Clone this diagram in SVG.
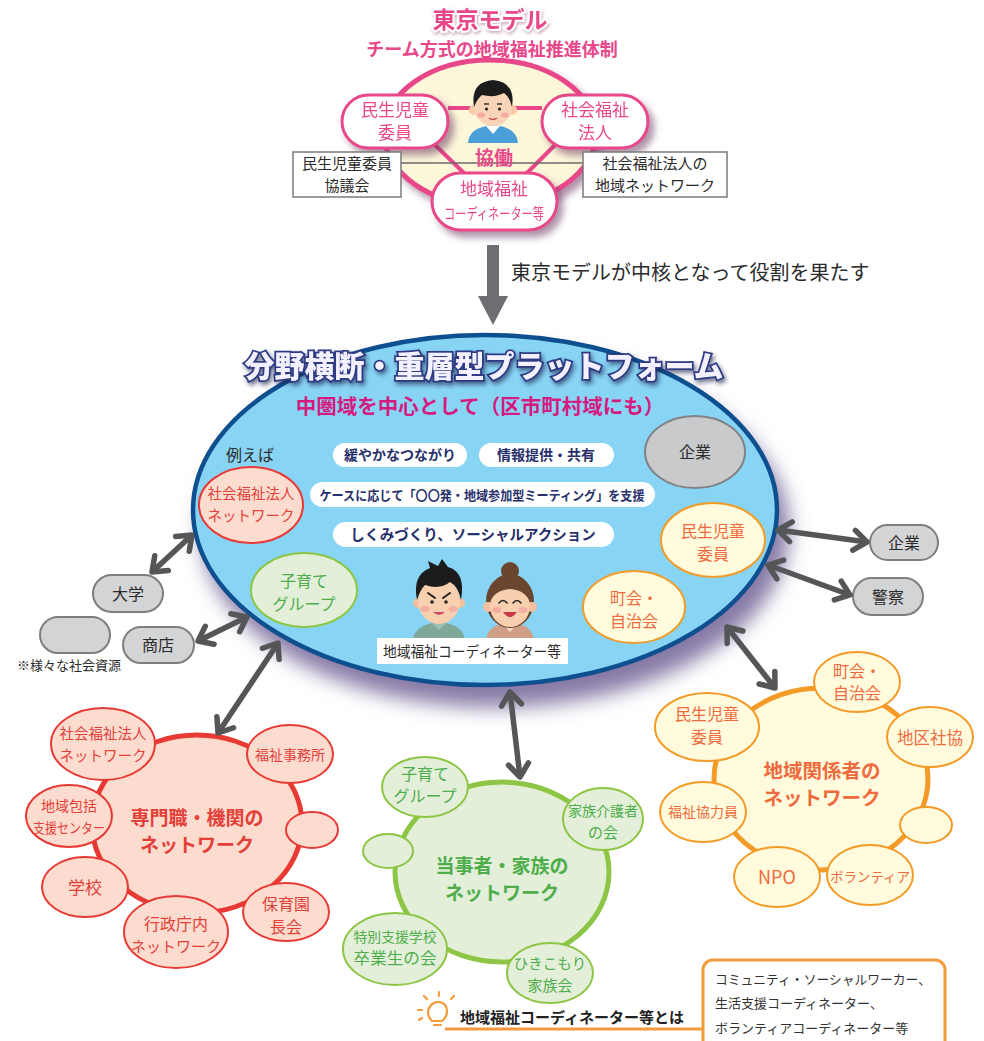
<svg xmlns="http://www.w3.org/2000/svg" width="984" height="1041" viewBox="0 0 984 1041">
<defs>
<style>
text{font-family:"Noto Sans CJK JP","Noto Sans CJK SC",sans-serif;text-anchor:middle}
.l{text-anchor:start}
.pk{fill:#e8478a}
.dk{fill:#2b2b2b}
.nv{fill:#27306b;font-weight:700}
.rd{fill:#e4403a}
.gr{fill:#4fae4c}
.or{fill:#ef6a3c}
.b{font-weight:700}
.topPill{fill:#fff;stroke:#e8478a;stroke-width:3}
.box{fill:#fff;stroke:#7a7a7a;stroke-width:1.5}
.wp{fill:#fff}
.gp{fill:#d3d4d6;stroke:#7d7e80;stroke-width:2}
.rs{fill:#fcdccf;stroke:#e83a35;stroke-width:2}
.gs{fill:#e3efd8;stroke:#8dc544;stroke-width:2}
.os{fill:#fffbdc;stroke:#f49a26;stroke-width:2}
.conn{stroke:#555658;stroke-width:5.5;fill:none;marker-start:url(#chev);marker-end:url(#chev)}
</style>
<marker id="chev" viewBox="-18 -14 22 28" refX="0" refY="0" markerWidth="22" markerHeight="28" markerUnits="userSpaceOnUse" orient="auto-start-reverse">
<path d="M-13,-10 L0,0 L-13,10" fill="none" stroke="#555658" stroke-width="5.5" stroke-linecap="round" stroke-linejoin="round"/>
</marker>
<filter id="shTop" x="-20%" y="-20%" width="150%" height="160%">
<feGaussianBlur in="SourceAlpha" stdDeviation="3.5"/>
<feOffset dx="5" dy="6" result="b"/>
<feFlood flood-color="#6e3d63" flood-opacity="0.55"/>
<feComposite in2="b" operator="in"/>
<feMerge><feMergeNode/><feMergeNode in="SourceGraphic"/></feMerge>
</filter>
<filter id="shMain" x="-10%" y="-10%" width="125%" height="135%">
<feGaussianBlur in="SourceAlpha" stdDeviation="10"/>
<feOffset dx="10" dy="20" result="b"/>
<feFlood flood-color="#7a6c9c" flood-opacity="0.9"/>
<feComposite in2="b" operator="in"/>
<feMerge><feMergeNode/><feMergeNode in="SourceGraphic"/></feMerge>
</filter>
<filter id="tsh" x="-5%" y="-30%" width="110%" height="170%">
<feGaussianBlur in="SourceAlpha" stdDeviation="2"/>
<feOffset dx="2" dy="3" result="b"/>
<feFlood flood-color="#1a1f4a" flood-opacity="0.6"/>
<feComposite in2="b" operator="in"/>
<feMerge><feMergeNode/><feMergeNode in="SourceGraphic"/></feMerge>
</filter>
<filter id="soft" x="-10%" y="-30%" width="120%" height="170%">
<feGaussianBlur in="SourceAlpha" stdDeviation="1.5"/>
<feOffset dx="1" dy="2" result="b"/>
<feFlood flood-color="#a06080" flood-opacity="0.5"/>
<feComposite in2="b" operator="in"/>
<feMerge><feMergeNode/><feMergeNode in="SourceGraphic"/></feMerge>
</filter>
</defs>

<rect width="984" height="1041" fill="#fff"/>

<!-- Tokyo model heading -->
<g id="tokyo-title">
<text x="490" y="28" font-size="23" class="pk b" stroke="#fff" stroke-width="4" paint-order="stroke" filter="url(#soft)">東京モデル</text>
<text x="492" y="56" font-size="18" class="pk b">チーム方式の地域福祉推進体制</text>
</g>

<!-- Tokyo model team -->
<g id="tokyo-team" filter="url(#shTop)">
<ellipse cx="490" cy="133" rx="106" ry="73" fill="#fdf7da" stroke="#e8478a" stroke-width="5"/>
<path d="M448,108 H542 M433,143 L467,176 M557,143 L524,176" stroke="#e8478a" stroke-width="4" fill="none"/>
</g>
<g id="person-top">
<path d="M468,143 Q469,127 493,125 Q517,127 518,143 Z" fill="#4b9fd9"/>
<path d="M486,126 L493,134 L500,126 Z" fill="#fff"/>
<circle cx="474" cy="110" r="5" fill="#f7c9a6"/>
<circle cx="512" cy="110" r="5" fill="#f7c9a6"/>
<ellipse cx="493" cy="106" rx="19" ry="20" fill="#f9d4b6"/>
<path d="M474,107 Q470,82 493,80 Q516,82 512,107 Q510,97 504,93 Q495,98 482,95 Q477,99 474,107 Z" fill="#1c1c1c"/>
<path d="M484,104 h5 M497,104 h5" stroke="#333" stroke-width="1.3"/>
<circle cx="486.5" cy="109" r="1.6" fill="#222"/>
<circle cx="499.5" cy="109" r="1.6" fill="#222"/>
<ellipse cx="481" cy="115" rx="4" ry="2.5" fill="#f29a9a" opacity=".7"/>
<ellipse cx="505" cy="115" rx="4" ry="2.5" fill="#f29a9a" opacity=".7"/>
<path d="M489,118 Q493,121 497,118" stroke="#c0504d" stroke-width="1.5" fill="none"/>
</g>
<g id="node-minsei-top" filter="url(#shTop)">
<rect x="342" y="95" width="106" height="53" rx="26.5" class="topPill"/>
<text x="395" y="116" font-size="17" class="pk">民生児童</text>
<text x="395" y="139" font-size="17" class="pk">委員</text>
</g>
<g id="node-shafuku-top" filter="url(#shTop)">
<rect x="542" y="95" width="106" height="53" rx="26.5" class="topPill"/>
<text x="595" y="116" font-size="17" class="pk">社会福祉</text>
<text x="595" y="139" font-size="17" class="pk">法人</text>
</g>
<g id="node-coordinator-top" filter="url(#shTop)">
<rect x="432" y="173" width="125" height="57" rx="28.5" class="topPill"/>
<text x="494" y="195" font-size="17" class="pk">地域福祉</text>
<text x="494" y="219" font-size="15" class="pk" textLength="100" lengthAdjust="spacingAndGlyphs">コーディネーター等</text>
</g>
<line x1="401" y1="163" x2="583" y2="163" stroke="#6a6a6a" stroke-width="1.5"/>
<text x="494" y="165" font-size="19" class="pk b">協働</text>
<g id="box-minsei-council">
<rect x="293" y="152" width="108" height="45" class="box"/>
<text x="347" y="169" font-size="15" class="dk">民生児童委員</text>
<text x="347" y="191" font-size="15" class="dk">協議会</text>
</g>
<g id="box-shafuku-network">
<rect x="583" y="152" width="144" height="45" class="box"/>
<text x="655" y="169" font-size="15" class="dk">社会福祉法人の</text>
<text x="655" y="191" font-size="15" class="dk">地域ネットワーク</text>
</g>

<!-- core role arrow -->
<g id="core-arrow">
<path d="M487,245 H499 V296 H508 L493,325 L478,296 H487 Z" fill="#6d6e71"/>
<text x="511" y="280" class="l dk" font-size="20">東京モデルが中核となって役割を果たす</text>
</g>

<!-- platform -->
<g id="platform">
<ellipse cx="485" cy="510" rx="292" ry="175" fill="#88d4f5" stroke="#0b4f8f" stroke-width="4.5" filter="url(#shMain)"/>
<text x="484" y="377" font-size="30" font-weight="900" fill="#f3f1ff" stroke="#2d3a82" stroke-width="3.5" paint-order="stroke" filter="url(#tsh)">分野横断・重層型プラットフォーム</text>
<text x="480" y="414" font-size="20.5" font-weight="700" fill="#d51a80">中圏域を中心として（区市町村域にも）</text>
<text x="226" y="461" class="l dk" font-size="16">例えば</text>
<rect x="333" y="443" width="134" height="24" rx="12" class="wp"/>
<text x="400" y="460" font-size="14" class="nv">緩やかなつながり</text>
<rect x="479" y="443" width="135" height="24" rx="12" class="wp"/>
<text x="546" y="460" font-size="14" class="nv">情報提供・共有</text>
<rect x="310" y="482" width="345" height="25" rx="12.5" class="wp"/>
<text x="482" y="500" font-size="13" class="nv" textLength="325" lengthAdjust="spacingAndGlyphs">ケースに応じて「〇〇発・地域参加型ミーティング」を支援</text>
<rect x="333" y="522" width="281" height="25" rx="12.5" class="wp"/>
<text x="473" y="540" font-size="14.5" class="nv">しくみづくり、ソーシャルアクション</text>
</g>
<g id="p-kigyo">
<ellipse cx="695" cy="452" rx="50" ry="36" fill="#c9cacc" stroke="#808184" stroke-width="2"/>
<text x="695" y="458" font-size="16" class="dk">企業</text>
</g>
<g id="p-shafuku">
<ellipse cx="251" cy="505" rx="52" ry="38" class="rs"/>
<text x="251" y="499" font-size="14.5" class="rd">社会福祉法人</text>
<text x="251" y="521" font-size="14.5" class="rd">ネットワーク</text>
</g>
<g id="p-minsei">
<ellipse cx="713" cy="540" rx="52" ry="37" class="os"/>
<text x="713" y="537" font-size="16" class="or">民生児童</text>
<text x="713" y="560" font-size="16" class="or">委員</text>
</g>
<g id="p-chokai">
<ellipse cx="634" cy="607" rx="51" ry="36" class="os"/>
<text x="634" y="604" font-size="16" class="or">町会・</text>
<text x="634" y="627" font-size="16" class="or">自治会</text>
</g>
<g id="p-kosodate">
<ellipse cx="304" cy="590" rx="53" ry="37" class="gs"/>
<text x="304" y="587" font-size="16" class="gr">子育て</text>
<text x="304" y="610" font-size="16" class="gr">グループ</text>
</g>
<g id="p-coordinators">
<path d="M413,640 Q415,624 439,622 Q463,624 465,640 Z" fill="#7fa898"/>
<path d="M432,623 L439,630 L446,623 Z" fill="#9cc0b2"/>
<circle cx="418" cy="603" r="5" fill="#f4c0a0"/>
<circle cx="460" cy="603" r="5" fill="#f4c0a0"/>
<ellipse cx="439" cy="601" rx="21" ry="23" fill="#f8d0b0"/>
<path d="M417,600 Q412,575 430,568 L428,561 L438,566 L442,559 L448,567 Q466,572 461,600 Q458,586 450,582 Q440,590 425,585 Q420,590 417,600 Z" fill="#1c1c1c"/>
<path d="M428,593 L435,598 M450,593 L443,598" stroke="#222" stroke-width="2" stroke-linecap="round"/>
<circle cx="432" cy="602" r="1.8" fill="#222"/>
<circle cx="446" cy="602" r="1.8" fill="#222"/>
<ellipse cx="425" cy="609" rx="4.5" ry="3" fill="#f29a9a" opacity=".6"/>
<ellipse cx="453" cy="609" rx="4.5" ry="3" fill="#f29a9a" opacity=".6"/>
<path d="M433,612 Q439,618 445,612 Z" fill="#d24a6a"/>
<path d="M486,640 Q488,624 510,622 Q532,624 534,640 Z" fill="#cf9f86"/>
<path d="M502,623 L510,632 L518,623 Z" fill="#f2d9c6"/>
<ellipse cx="510" cy="601" rx="24" ry="27" fill="#6a4630"/>
<circle cx="510" cy="571" r="9" fill="#6a4630"/>
<circle cx="488" cy="607" r="5" fill="#f4c0a0"/>
<circle cx="532" cy="607" r="5" fill="#f4c0a0"/>
<ellipse cx="510" cy="606" rx="20" ry="21" fill="#f8d0b0"/>
<path d="M490,602 Q490,580 510,579 Q530,580 530,602 Q525,590 510,589 Q495,590 490,602 Z" fill="#6a4630"/>
<path d="M499,603 Q503,598 507,603 M513,603 Q517,598 521,603" stroke="#222" stroke-width="1.6" fill="none" stroke-linecap="round"/>
<ellipse cx="497" cy="610" rx="4.5" ry="3" fill="#f29a9a" opacity=".6"/>
<ellipse cx="523" cy="610" rx="4.5" ry="3" fill="#f29a9a" opacity=".6"/>
<path d="M503,612 Q510,622 517,612 Z" fill="#c83a4a"/>
<rect x="377" y="638" width="191" height="26" fill="#fff"/>
<text x="472" y="657" font-size="14.5" class="dk" textLength="178" lengthAdjust="spacingAndGlyphs">地域福祉コーディネーター等</text>
</g>

<!-- social resources -->
<g id="r-daigaku">
<rect x="93" y="575" width="70" height="37" rx="18.5" class="gp"/>
<text x="128" y="600" font-size="16" class="dk">大学</text>
</g>
<g id="r-blank">
<rect x="40" y="617" width="70" height="36" rx="18" class="gp"/>
</g>
<g id="r-shoten">
<rect x="123" y="627" width="71" height="36" rx="18" class="gp"/>
<text x="158" y="651" font-size="16" class="dk">商店</text>
</g>
<text x="17" y="670" class="l dk" font-size="13">※様々な社会資源</text>
<g id="r-kigyo">
<rect x="870" y="525" width="68" height="35" rx="17.5" class="gp"/>
<text x="904" y="549" font-size="16" class="dk">企業</text>
</g>
<g id="r-keisatsu">
<rect x="853" y="578" width="70" height="37" rx="18.5" class="gp"/>
<text x="888" y="603" font-size="16" class="dk">警察</text>
</g>

<!-- professional / institution network -->
<g id="net-professional">
<ellipse cx="197" cy="824" rx="105" ry="89" fill="#fcdccf" stroke="#e83a35" stroke-width="5"/>
<ellipse cx="103" cy="744" rx="52" ry="36" class="rs"/>
<text x="103" y="739" font-size="14.5" class="rd">社会福祉法人</text>
<text x="103" y="761" font-size="14.5" class="rd">ネットワーク</text>
<ellipse cx="290" cy="754" rx="43" ry="29" class="rs"/>
<text x="290" y="760" font-size="14" class="rd">福祉事務所</text>
<ellipse cx="69" cy="816" rx="43" ry="31" class="rs"/>
<text x="69" y="811" font-size="14" class="rd">地域包括</text>
<text x="69" y="833" font-size="14" class="rd" textLength="72" lengthAdjust="spacingAndGlyphs">支援センター</text>
<ellipse cx="312" cy="830" rx="26" ry="18" class="rs"/>
<ellipse cx="85" cy="887" rx="43" ry="30" class="rs"/>
<text x="85" y="894" font-size="17" class="rd">学校</text>
<ellipse cx="176" cy="932" rx="52" ry="36" class="rs"/>
<text x="176" y="930" font-size="16" class="rd">行政庁内</text>
<text x="176" y="952" font-size="15" class="rd">ネットワーク</text>
<ellipse cx="286" cy="912" rx="43" ry="29" class="rs"/>
<text x="286" y="910" font-size="16" class="rd">保育園</text>
<text x="286" y="933" font-size="16" class="rd">長会</text>
<text x="197" y="825" font-size="19" class="rd b">専門職・機関の</text>
<text x="197" y="852" font-size="19" class="rd b">ネットワーク</text>
</g>

<!-- people concerned / families network -->
<g id="net-family">
<ellipse cx="502" cy="872" rx="107" ry="90" fill="#e3efd8" stroke="#8dc544" stroke-width="5"/>
<ellipse cx="425" cy="787" rx="43" ry="30" class="gs"/>
<text x="425" y="780" font-size="16" class="gr">子育て</text>
<text x="425" y="802" font-size="16" class="gr">グループ</text>
<ellipse cx="603" cy="819" rx="40" ry="31" class="gs"/>
<text x="603" y="816" font-size="14" class="gr">家族介護者</text>
<text x="603" y="838" font-size="15" class="gr">の会</text>
<ellipse cx="388" cy="851" rx="25" ry="17" class="gs"/>
<ellipse cx="395" cy="949" rx="52" ry="36" class="gs"/>
<text x="395" y="942" font-size="14" class="gr" textLength="83" lengthAdjust="spacingAndGlyphs">特別支援学校</text>
<text x="395" y="964" font-size="15.5" class="gr" textLength="83" lengthAdjust="spacingAndGlyphs">卒業生の会</text>
<ellipse cx="550" cy="973" rx="43" ry="30" class="gs"/>
<text x="550" y="969" font-size="14.5" class="gr">ひきこもり</text>
<text x="550" y="991" font-size="15" class="gr">家族会</text>
<text x="502" y="873" font-size="19" class="gr b">当事者・家族の</text>
<text x="502" y="900" font-size="19" class="gr b">ネットワーク</text>
</g>

<!-- local stakeholders network -->
<g id="net-local">
<ellipse cx="821" cy="779" rx="107" ry="91" fill="#fffbdc" stroke="#f49a26" stroke-width="5"/>
<ellipse cx="857" cy="682" rx="43" ry="30" class="os"/>
<text x="857" y="677" font-size="16" class="or">町会・</text>
<text x="857" y="699" font-size="16" class="or">自治会</text>
<ellipse cx="707" cy="727" rx="52" ry="34" class="os"/>
<text x="707" y="720" font-size="16" class="or">民生児童</text>
<text x="707" y="743" font-size="16" class="or">委員</text>
<ellipse cx="930" cy="737" rx="43" ry="30" class="os"/>
<text x="930" y="744" font-size="16.5" class="or">地区社協</text>
<ellipse cx="703" cy="812" rx="43" ry="30" class="os"/>
<text x="703" y="817" font-size="14" class="or">福祉協力員</text>
<ellipse cx="926" cy="825" rx="26" ry="18" class="os"/>
<ellipse cx="777" cy="877" rx="43" ry="30" class="os"/>
<text x="777" y="884" font-size="18" class="or">NPO</text>
<ellipse cx="870" cy="875" rx="43" ry="30" class="os"/>
<text x="870" y="882" font-size="13.5" class="or">ボランティア</text>
<text x="822" y="778" font-size="19.5" class="or b">地域関係者の</text>
<text x="822" y="805" font-size="19.5" class="or b">ネットワーク</text>
</g>

<!-- connectors -->
<g id="connectors">
<line x1="192" y1="535" x2="152" y2="572" class="conn"/>
<line x1="247" y1="617" x2="198" y2="641" class="conn"/>
<line x1="278" y1="643" x2="218" y2="733" class="conn"/>
<line x1="510" y1="692" x2="520" y2="777" class="conn"/>
<line x1="727" y1="627" x2="775" y2="688" class="conn"/>
<line x1="778" y1="530" x2="867" y2="542" class="conn"/>
<line x1="768" y1="565" x2="850" y2="595" class="conn"/>
</g>

<!-- definition note -->
<g id="note">
<g stroke="#f39a3c" fill="none" stroke-width="2.2" stroke-linecap="round">
<path d="M432,1021 Q426,1015 429,1008 Q433,1001 440,1002 Q447,1004 447,1011 Q447,1017 442,1021 Z"/>
<path d="M434,1025 h7"/>
<path d="M427,999 l-3,-3 M439,996 v-4 M451,999 l3,-3 M422,1010 h-4 M422,1018 l-3,2"/>
</g>
<line x1="445" y1="1029" x2="704" y2="1029" stroke="#f39a3c" stroke-width="3"/>
<text x="460" y="1023" class="l b" font-size="15" fill="#222">地域福祉コーディネーター等とは</text>
<rect x="703" y="960" width="242" height="95" rx="10" fill="#fff" stroke="#f39a3c" stroke-width="3"/>
<text x="715" y="984" class="l" font-size="13" fill="#333" textLength="216" lengthAdjust="spacingAndGlyphs">コミュニティ・ソーシャルワーカー、</text>
<text x="715" y="1008" class="l" font-size="13" fill="#333">生活支援コーディネーター、</text>
<text x="715" y="1033" class="l" font-size="13" fill="#333">ボランティアコーディネーター等</text>
</g>
</svg>
